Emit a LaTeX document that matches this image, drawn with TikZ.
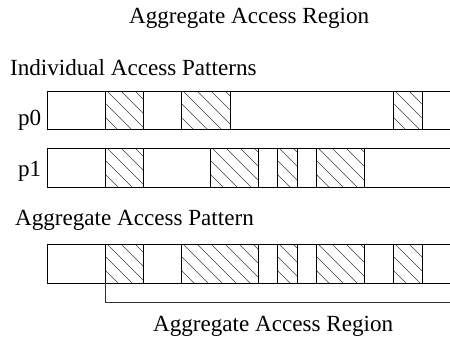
\documentclass[tikz,border=0pt]{standalone}
\usepackage{fontspec}
\setmainfont{Liberation Serif}
\newcommand\hblk[4]{%
  \begin{scope}
    \clip (#1,#2) rectangle (#3,#4);
    \foreach \k in {-5,...,6} \draw[hatchline] (#1+2+14*\k,#2) -- ++(60,60);
  \end{scope}
  \draw[boxline] (#1,#2) rectangle (#3,#4);}
\begin{document}
\begin{tikzpicture}[x=1pt,y=-1pt,
  boxline/.style={draw=black,line width=0.9pt},
  hatchline/.style={draw=black!75,line width=0.7pt},
  lbl/.style={anchor=base west,inner sep=0pt,font=\fontsize{23.1}{27}\selectfont}]
\useasboundingbox (0,0) rectangle (450,338);
% labels
\node[lbl] (top) at (129,23) {Aggregate Access Region};
\node[lbl] (ind) at (10,75) {Individual Access Patterns};
\node[lbl] (p0) at (18,125) {p0};
\node[lbl] (p1) at (18,176) {p1};
\node[lbl] (agg) at (15,225) {Aggregate Access Pattern};
\node[lbl] (bot) at (153,331) {Aggregate Access Region};
% bars
\draw[boxline] (47,91) rectangle (460,129);
\draw[boxline] (47,148) rectangle (460,187);
\draw[boxline] (47,244) rectangle (460,283);
% p0 blocks
\hblk{105}{91}{143}{129}
\hblk{181}{91}{230}{129}
\hblk{393}{91}{422}{129}
% p1 blocks
\hblk{105}{148}{143}{187}
\hblk{210}{148}{258}{187}
\hblk{277}{148}{297}{187}
\hblk{316}{148}{364}{187}
% aggregate blocks
\hblk{105}{244}{143}{283}
\hblk{181}{244}{258}{283}
\hblk{277}{244}{297}{283}
\hblk{316}{244}{364}{283}
\hblk{393}{244}{422}{283}
% bracket
\coordinate (b1) at (105,283);
\coordinate (b2) at (105,302);
\coordinate (b3) at (460,302);
\draw[line width=0.8pt,black!80] (b1) -- (b2) -- (b3);
\end{tikzpicture}
\end{document}
